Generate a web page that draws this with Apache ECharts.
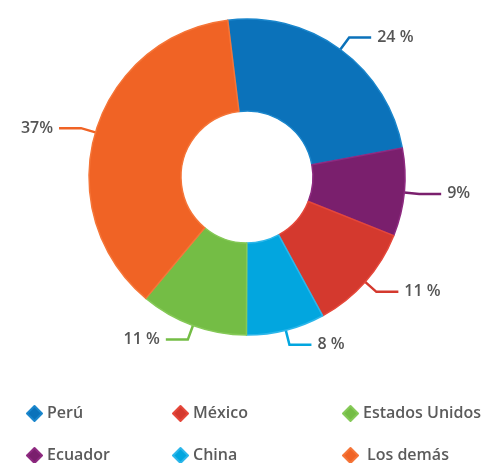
<!DOCTYPE html>
<html>
<head>
<meta charset="utf-8">
<script src="https://cdn.jsdelivr.net/npm/echarts@6/dist/echarts.min.js"></script>
<style>
  html, body { margin: 0; padding: 0; background: #fff; }
  #chart { width: 487px; height: 463px; }
</style>
</head>
<body>
<div id="chart"></div>
<script>
// países (orden de los sectores, sentido horario)
const paises = ['Perú', 'Ecuador', 'México', 'China', 'Estados Unidos', 'Los demás']
const valores = [24, 9, 11, 8, 11, 37]
const etiquetas = ['24 %', '9%', '11 %', '8 %', '11 %', '37%']
const colores = ['#0b72ba', '#7a1f6d', '#d4392e', '#02a6df', '#74bd45', '#f06325']
const bordes = ['#1a86cc', '#8e2a80', '#e5473a', '#2bb6ea', '#85c957', '#f57538']

// leyenda: 3 columnas x 2 filas
const leyendaOrden = ['Perú', 'México', 'Estados Unidos', 'Ecuador', 'China', 'Los demás']
const leyendaX = [21, 167, 337]
const leyendaY = [400, 442]

let myChart = echarts.init(document.getElementById('chart'))

let legends = leyendaOrden.map((nombre, i) => ({
  left: leyendaX[i % 3],
  top: leyendaY[Math.floor(i / 3)],
  icon: 'diamond',
  itemWidth: 15,
  itemHeight: 15,
  itemGap: 10,
  data: [nombre],
  textStyle: {
    color: '#5b5b5b',
    fontSize: 16,
    fontFamily: 'Open Sans',
    fontWeight: 600,
    padding: [0, 0, 0, nombre === 'Los demás' ? 4 : 0]
  }
}))

let option = {
  color: colores,
  legend: legends,
  series: [
    {
      type: 'pie',
      center: [247, 177],
      radius: [66, 158],
      startAngle: 97,
      clockwise: true,
      avoidLabelOverlap: false,
      data: paises.map((p, i) => ({
        name: p,
        value: valores[i],
        itemStyle: { color: colores[i], borderColor: bordes[i] },
        labelLine: { lineStyle: { color: colores[i] } }
      })),
      itemStyle: {
        borderWidth: 1.5
      },
      label: {
        show: true,
        formatter: (p) => etiquetas[p.dataIndex],
        color: '#555555',
        fontSize: 16,
        fontFamily: 'Open Sans',
        fontWeight: 600,
        distanceToLabelLine: 6
      },
      labelLine: {
        show: true,
        length: 15,
        length2: 22,
        smooth: false,
        lineStyle: { width: 2.5 }
      }
    }
  ]
}

myChart.setOption(option, true)
</script>
</body>
</html>
